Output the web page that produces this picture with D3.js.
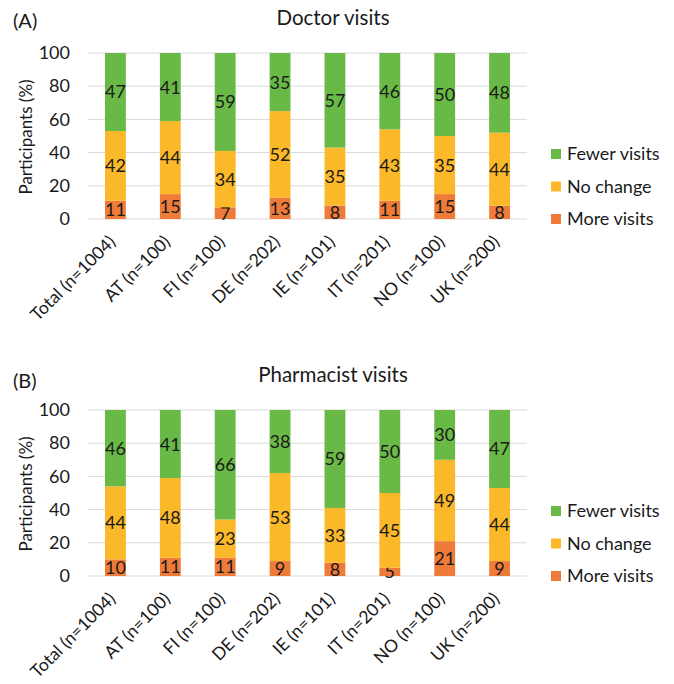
<!DOCTYPE html>
<html>
<head>
<meta charset="utf-8">
<script src="https://cdn.jsdelivr.net/npm/d3@7"></script>
<style>
  body { margin: 0; background: white; }
  text { font-family: Lato, "Open Sans", sans-serif; fill: #1a1a1a; }
</style>
</head>
<body>
<script>
// data
let categories = ["Total (n=1004)", "AT (n=100)", "FI (n=100)", "DE (n=202)",
                  "IE (n=101)", "IT (n=201)", "NO (n=100)", "UK (n=200)"];
let seriesNames = ["More visits", "No change", "Fewer visits"];
let doctorMore = [11, 15, 7, 13, 8, 11, 15, 8];
let doctorNoChange = [42, 44, 34, 52, 35, 43, 35, 44];
let doctorFewer = [47, 41, 59, 35, 57, 46, 50, 48];
let pharmMore = [10, 11, 11, 9, 8, 5, 21, 9];
let pharmNoChange = [44, 48, 23, 53, 33, 45, 49, 44];
let pharmFewer = [46, 41, 66, 38, 59, 50, 30, 47];
let yTicks = [0, 20, 40, 60, 80, 100];

let colors = {"More visits": "#ef7b39", "No change": "#fbb828", "Fewer visits": "#69b946"};

let width = 674;
let height = 684;

let svg = d3.select("body").append("svg")
    .attr("width", width)
    .attr("height", height);

function panel(tag, title, more, noChange, fewer, top, tagY) {
    let g = svg.append("g").attr("transform", "translate(0," + top + ")");
    let plotTop = 53, plotBottom = 219, left = 88, right = 527;

    let x = d3.scaleBand().domain(categories).range([left, right]).paddingInner(0.62).paddingOuter(0.31);
    let y = d3.scaleLinear().domain([0, 100]).range([plotBottom, plotTop]);

    g.append("text").attr("x", 13).attr("y", tagY).style("font-size", "20px").text(tag);
    g.append("text").attr("x", 333).attr("y", 25).attr("text-anchor", "middle")
        .style("font-size", "20.5px").text(title);

    // grid
    g.selectAll(".grid").data(yTicks).enter().append("line")
        .attr("x1", left).attr("x2", right)
        .attr("y1", d => y(d)).attr("y2", d => y(d))
        .attr("stroke", "#d9d9d9").attr("stroke-width", 1);

    let yAxis = g.append("g").attr("transform", "translate(" + left + ",0)")
        .call(d3.axisLeft(y).tickValues(yTicks).tickSize(0).tickPadding(18));
    yAxis.select(".domain").remove();
    yAxis.selectAll("text").style("font-size", "18px").style("font-family", "Lato, sans-serif").attr("fill", "#1a1a1a");

    g.append("text")
        .attr("transform", "translate(32," + ((plotTop + plotBottom) / 2 + 1) + ") rotate(-90)")
        .attr("text-anchor", "middle").style("font-size", "17px").text("Participants (%)");

    let rows = categories.map((c, i) => ({cat: c, "More visits": more[i], "No change": noChange[i], "Fewer visits": fewer[i]}));
    let stacked = d3.stack().keys(seriesNames)(rows);

    stacked.forEach(function (layer) {
        let key = layer.key;
        g.selectAll(".bar-" + key.replace(" ", ""))
            .data(layer).enter().append("rect")
            .attr("x", d => x(d.data.cat))
            .attr("width", x.bandwidth())
            .attr("y", d => y(d[1]))
            .attr("height", d => y(d[0]) - y(d[1]))
            .attr("fill", colors[key]);
        g.selectAll(".lab-" + key.replace(" ", ""))
            .data(layer).enter().append("text")
            .attr("x", d => x(d.data.cat) + x.bandwidth() / 2)
            .attr("y", d => y((d[0] + d[1]) / 2))
            .attr("dy", "0.36em")
            .attr("text-anchor", "middle")
            .style("font-size", "18px")
            .text(d => d.data[key]);
    });

    // x labels
    g.selectAll(".xlab").data(categories).enter().append("text")
        .attr("transform", d => "translate(" + (x(d) + x.bandwidth() / 2 + 1) + "," + (plotBottom + 24) + ") rotate(-45)")
        .attr("text-anchor", "end")
        .style("font-size", "17.5px")
        .text(d => d);

    // legend
    let legendOrder = ["Fewer visits", "No change", "More visits"];
    let lg = g.selectAll(".leg").data(legendOrder).enter().append("g")
        .attr("transform", (d, i) => "translate(551," + (plotBottom - 65 + i * 32.5) + ")");
    lg.append("rect").attr("x", 0).attr("y", -5).attr("width", 10).attr("height", 10)
        .attr("fill", d => colors[d]);
    lg.append("text").attr("x", 16).attr("dy", "0.36em").style("font-size", "18px").text(d => d);
}

panel("(A)", "Doctor visits", doctorMore, doctorNoChange, doctorFewer, 0, 28);
panel("(B)", "Pharmacist visits", pharmMore, pharmNoChange, pharmFewer, 357, 31);
</script>
</body>
</html>
